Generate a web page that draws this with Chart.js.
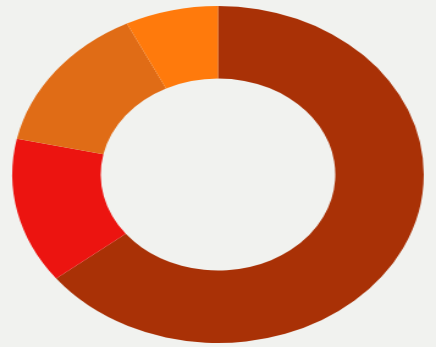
<!DOCTYPE html>
<html>
<head>
<meta charset="utf-8">
<script src="https://cdn.jsdelivr.net/npm/chart.js@4"></script>
<style>
  html, body { margin: 0; padding: 0; background: #f1f2ef; }
  #wrap { width: 436px; height: 347px; overflow: hidden; }
  /* canvas is drawn at 357x347 and stretched wide, giving the oval ring */
  #ring { display: block; width: 436px; height: 347px; }
</style>
</head>
<body>
<div id="wrap"><canvas id="ring" width="357" height="347" style="width:436px;height:347px"></canvas></div>
<script>
  const labels = ['A', 'B', 'C', 'D'];
  const values = [64.4, 14.0, 14.3, 7.3];
  const colors = ['#a93106', '#ec1410', '#e06c16', '#ff7a0c'];

  new Chart(document.getElementById('ring'), {
    type: 'doughnut',
    data: {
      labels: labels,
      datasets: [{
        data: values,
        backgroundColor: colors,
        borderWidth: 0,
        hoverOffset: 0
      }]
    },
    options: {
      responsive: false,
      animation: false,
      cutout: '57%',
      layout: { padding: { top: 6, bottom: 4, left: 0, right: 0 } },
      plugins: {
        legend: { display: false },
        tooltip: { enabled: false }
      }
    }
  });
</script>
</body>
</html>
